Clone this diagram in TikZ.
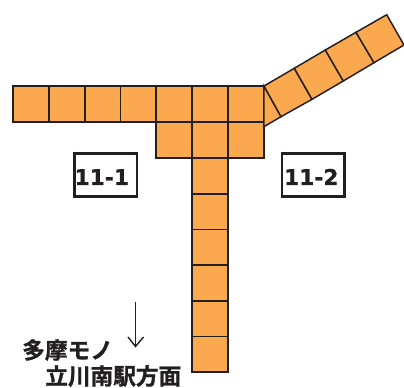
\documentclass[tikz,border=0pt]{standalone}
\usepackage{fontspec}
\setmainfont{DejaVu Sans}
\newfontfamily\jpfont[FakeBold=1.2]{Noto Sans CJK JP Bold}
\newfontfamily\tagfont[FakeBold=0.6]{DejaVu Sans Bold}
\definecolor{cellfill}{HTML}{FBA94F}
\definecolor{ink}{HTML}{231F20}
\tikzset{
  x=0.75pt,y=-0.75pt,
  cell/.style={fill=cellfill,draw=ink,line width=1.1pt,line join=miter},
  tag/.style={draw=ink,line width=1.9pt,fill=white,font=\tagfont\fontsize{16.3}{16.3}\selectfont,text=ink,minimum width=47pt,minimum height=32pt,inner sep=0pt,text height=15pt,text depth=0pt},
  jp/.style={font=\jpfont\fontsize{17}{17}\selectfont,text=ink,inner sep=0pt,anchor=west},
  pointer/.style={draw=ink,line width=1.05pt},
}
\begin{document}
\begin{tikzpicture}
\useasboundingbox (0,0) rectangle (404,388);
% top row
\foreach \a/\b in {13/49,49/85,85/120.5,120.5/156,156/192,192/228,228/264}
  \draw[cell] (\a,86) rectangle (\b,122);
% second row
\foreach \a/\b in {156/192,192/228,228/264}
  \draw[cell] (\a,122) rectangle (\b,158);
% stem
\foreach \a/\b in {158/194,194/229.5,229.5/265,265/301,301/336.5,336.5/372}
  \draw[cell] (192,\a) rectangle (228,\b);
% diagonal arm
\draw[cell] (264,86) -- (281,116.7) -- (264,126.7) -- cycle;
\draw[cell] (264,86) -- (294.3,68.3) -- (312,99.3) -- (281,116.7) -- cycle;
\draw[cell] (294.3,68.3) -- (325.3,50) -- (343.3,81) -- (312,99.3) -- cycle;
\draw[cell] (325.3,50) -- (356,32.3) -- (374,62.7) -- (343.3,81) -- cycle;
\draw[cell] (356,32.3) -- (386.7,14.7) -- (404,45) -- (374,62.7) -- cycle;
% labels
\node[tag] (t1) at (105.8,175) {11-1\rule{6pt}{0pt}};
\node[tag] (t2) at (313.3,175) {11-2\rule{3pt}{0pt}};
\node[jp] (j1) at (22,350) {多摩モノ};
\node[jp] (j2) at (45,376) {立川南駅方面};
% arrow
\coordinate (as) at (135.5,302);
\coordinate (ae) at (135.5,346.5);
\draw[pointer] (as) -- (ae);
\draw[pointer] (128,337) -- (ae) -- (143.5,337);
\end{tikzpicture}
\end{document}
